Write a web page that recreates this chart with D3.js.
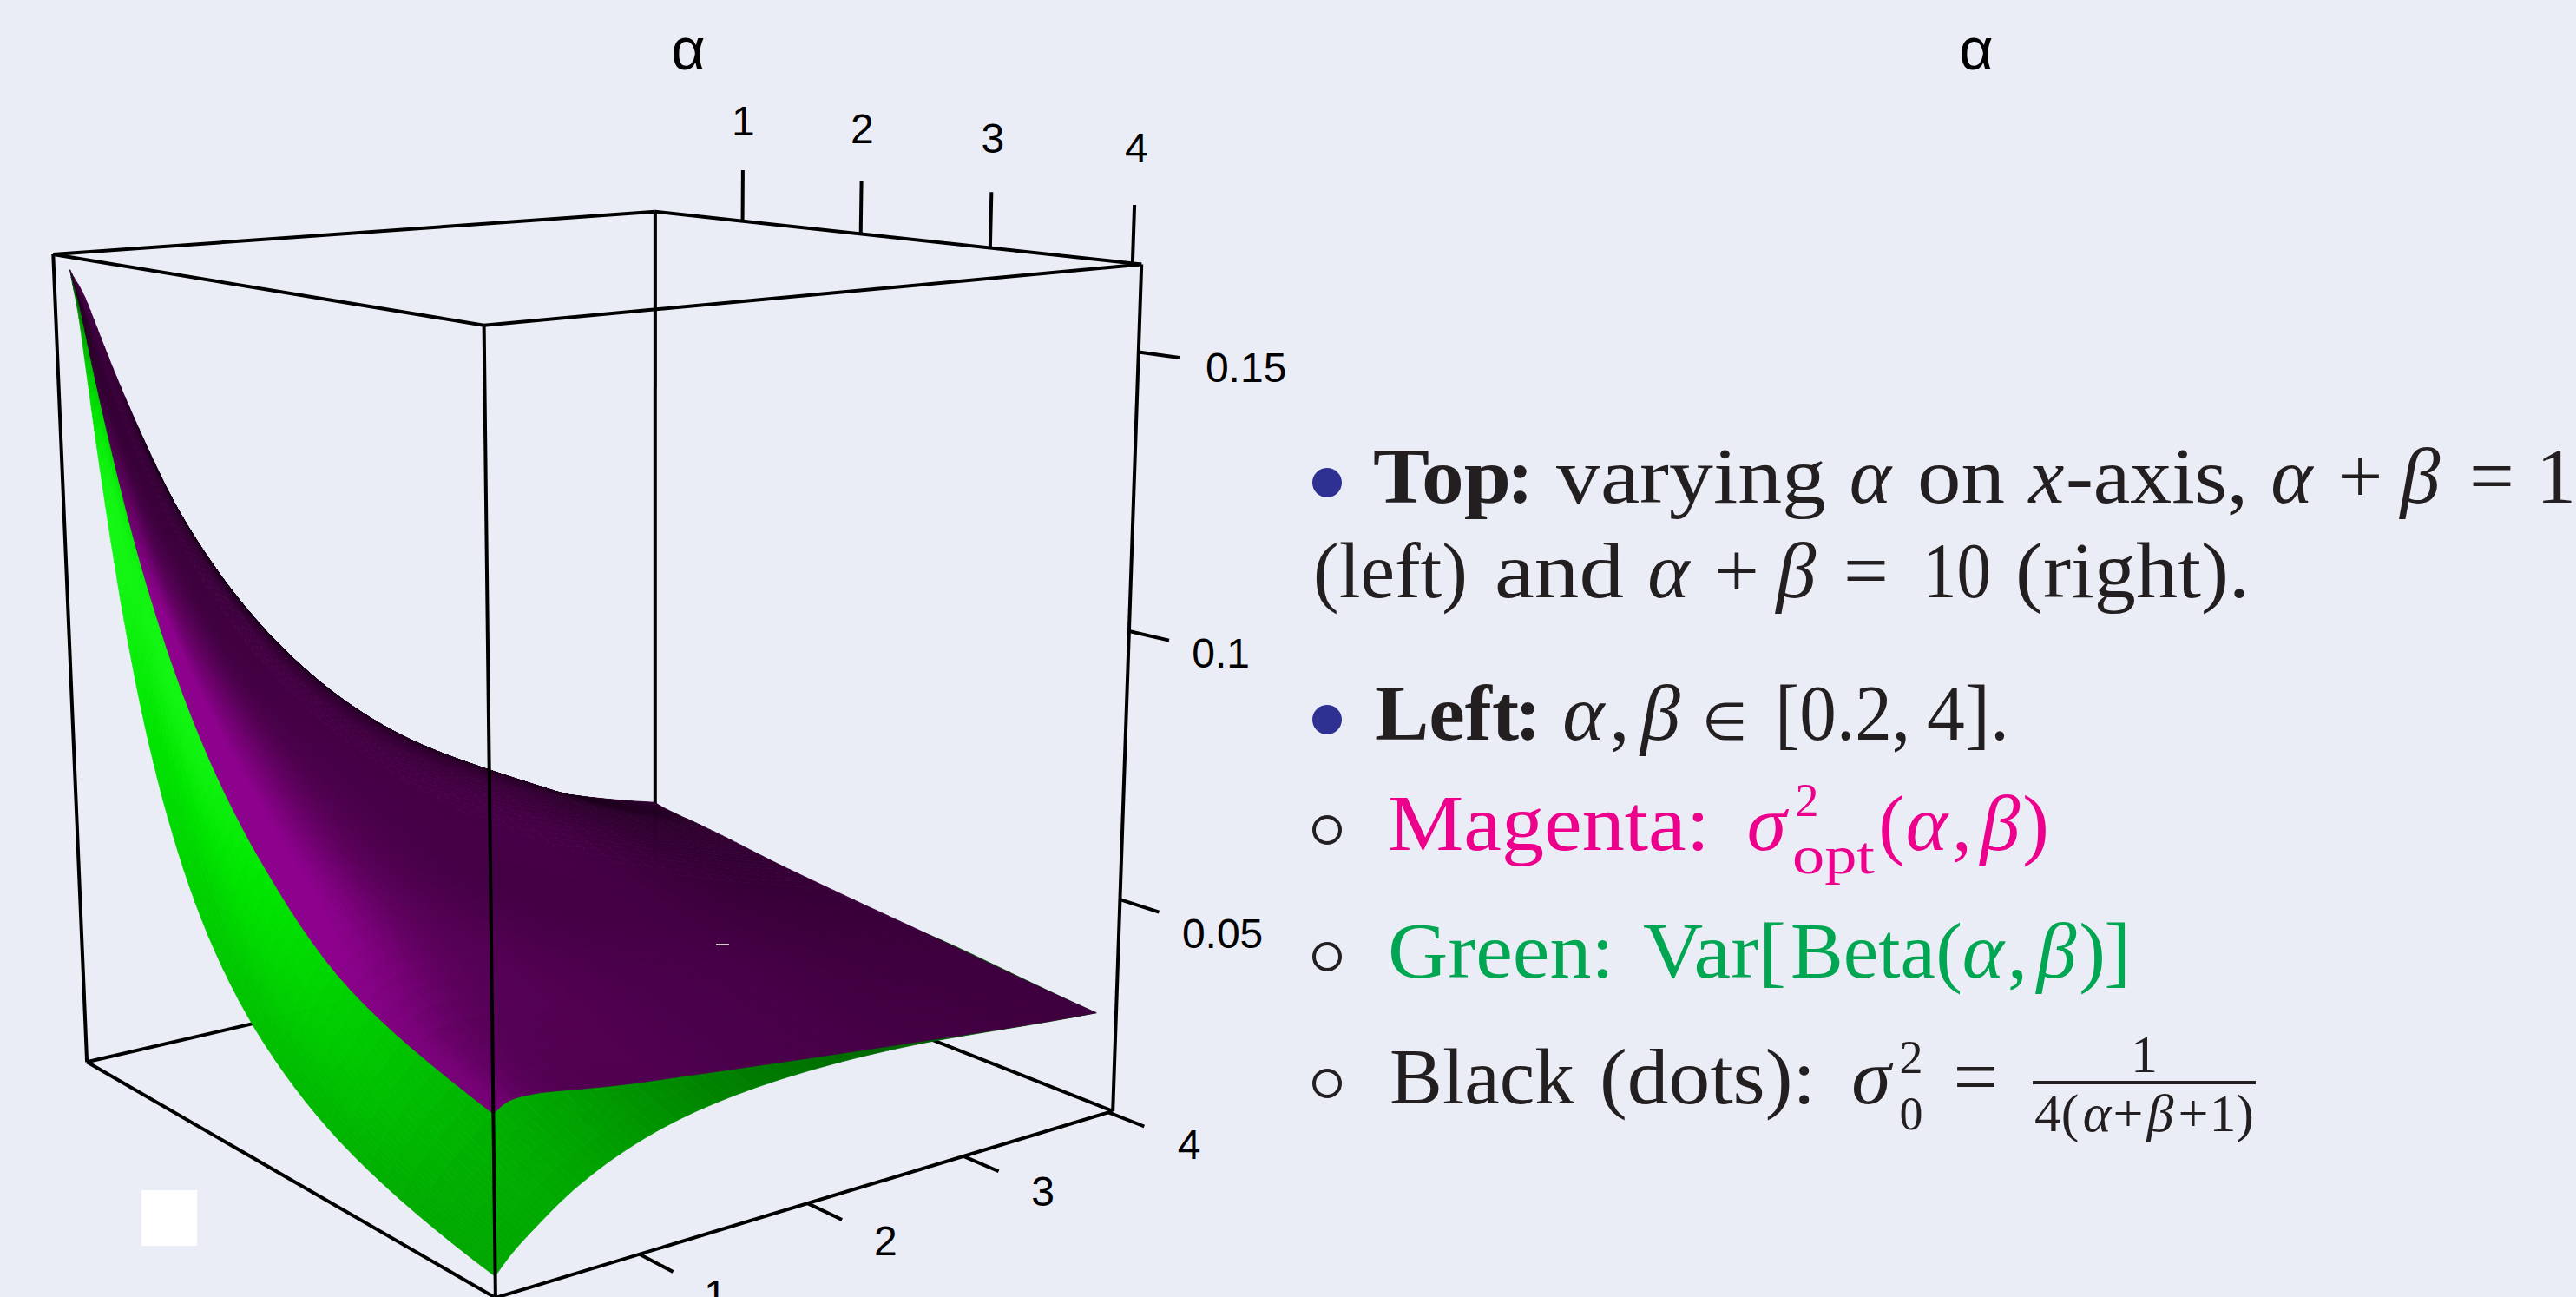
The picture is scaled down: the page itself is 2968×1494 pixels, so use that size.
<!DOCTYPE html>
<html>
<head>
<meta charset="utf-8">
<script src="https://cdnjs.cloudflare.com/ajax/libs/d3/7.8.5/d3.min.js"></script>
<style>
  html, body { margin: 0; padding: 0; background: #eaedf6; }
  svg { display: block; }
</style>
</head>
<body>
<script>
var w = 2968;
var h = 1494;

// grid of the two surfaces
var alphaGrid = [0.26, 0.35, 0.5, 0.7, 1, 1.4, 2, 2.8, 3.97];
var betaGrid = [0.26, 0.35, 0.5, 0.7, 1, 1.4, 2, 2.8, 3.98];

// magenta surface, rows = alpha, columns = beta
var sigmaOpt = [
  [.1625, .1562, .1421, .1254, .1048, .0846, .0655, .0510, .0390],
  [.1562, .1471, .1351, .1213, .1039, .0858, .0667, .0520, .0385],
  [.1421, .1351, .1250, .1136, .0995, .0843, .0674, .0530, .0380],
  [.1254, .1213, .1136, .1042, .0926, .0802, .0660, .0530, .0375],
  [.1048, .1039, .0995, .0926, .0833, .0735, .0622, .0510, .0365],
  [.0846, .0858, .0843, .0802, .0735, .0658, .0568, .0478, .0350],
  [.0646, .0667, .0674, .0660, .0622, .0568, .0500, .0431, .0332],
  [.0485, .0510, .0530, .0530, .0510, .0478, .0431, .0379, .0310],
  [.0390, .0405, .0405, .0395, .0380, .0365, .0343, .0315, .0278]
];

// green surface
var varBeta = [
  [.1625, .1519, .1270, .0994, .0711, .0485, .0304, .0186, .0105],
  [.1519, .1471, .1309, .1084, .0817, .0582, .0378, .0238, .0138],
  [.1270, .1309, .1250, .1105, .0889, .0669, .0457, .0299, .0180],
  [.0994, .1084, .1105, .1042, .0897, .0717, .0519, .0356, .0223],
  [.0711, .0817, .0889, .0897, .0833, .0715, .0556, .0404, .0267],
  [.0485, .0582, .0669, .0717, .0715, .0658, .0550, .0427, .0300],
  [.0304, .0378, .0457, .0519, .0556, .0550, .0500, .0419, .0317],
  [.0186, .0238, .0299, .0356, .0404, .0427, .0419, .0379, .0311],
  [.0112, .0142, .0180, .0223, .0267, .0300, .0317, .0311, .0278]
];

var alphaTicks = [1, 2, 3, 4];
var betaTicks = [1, 2, 3, 4];
var zTicks = [0.05, 0.1, 0.15];
var zTickLabels = ["0.05", "0.1", "0.15"];
var zLabelOffsets = [0.18, 0.158, 0.18];

var svg = d3.select("body")
  .append("svg")
  .attr("width", w)
  .attr("height", h);

svg.append("rect").attr("width", w).attr("height", h).attr("fill", "#eaedf6");

var xs = d3.scaleLinear().domain([0.2, 4.06]).range([0, 1]);
var ys = d3.scaleLinear().domain([0.2, 4.03]).range([0, 1]);
var zs = d3.scaleLinear().domain([0.0092, 0.1653]).range([0, 1]);

// camera: fit a projective matrix to where the box corners land on the page
var calib = [
  [0, 0, 1, 61, 293], [0, 1, 1, 755, 244], [1, 1, 1, 1315, 304], [1, 0, 1, 558, 375],
  [0, 0, 0, 100, 1223], [0, 1, 0, 755, 1072], [1, 1, 0, 1282, 1280], [1, 0, 0, 571, 1495]
];

function fitCamera(pts) {
  var A = [], b = [];
  pts.forEach(function(p) {
    A.push([p[0], p[1], p[2], 1, 0, 0, 0, 0, -p[3]*p[0], -p[3]*p[1], -p[3]*p[2]]);
    b.push(p[3]);
    A.push([0, 0, 0, 0, p[0], p[1], p[2], 1, -p[4]*p[0], -p[4]*p[1], -p[4]*p[2]]);
    b.push(p[4]);
  });
  var n = 11, M = [];
  for (var i = 0; i < n; i++) {
    M.push([]);
    for (var j = 0; j <= n; j++) {
      var s = 0;
      for (var k = 0; k < A.length; k++) s += A[k][i] * (j < n ? A[k][j] : b[k]);
      M[i].push(s);
    }
  }
  for (i = 0; i < n; i++) {
    var piv = i;
    for (k = i + 1; k < n; k++) if (Math.abs(M[k][i]) > Math.abs(M[piv][i])) piv = k;
    var tmp = M[i]; M[i] = M[piv]; M[piv] = tmp;
    for (k = 0; k < n; k++) {
      if (k == i) continue;
      var f = M[k][i] / M[i][i];
      for (j = i; j <= n; j++) M[k][j] -= f * M[i][j];
    }
  }
  return M.map(function(r, i) { return r[n] / r[i]; });
}
var cam = fitCamera(calib);

function depth(u, v, t) { return cam[8]*u + cam[9]*v + cam[10]*t + 1; }
function project(u, v, t) {
  var d = depth(u, v, t);
  return [(cam[0]*u + cam[1]*v + cam[2]*t + cam[3]) / d,
          (cam[4]*u + cam[5]*v + cam[6]*t + cam[7]) / d];
}

// smooth the small grids so the surface has no facets
function cr(a, x) {
  var n = a.length;
  var i = Math.min(Math.floor(x), n - 2), t = x - i;
  var p1 = a[i], p2 = a[i+1];
  var p0 = i > 0 ? a[i-1] : 2*p1 - p2;
  var p3 = i < n - 2 ? a[i+2] : 2*p2 - p1;
  return 0.5 * (2*p1 + (p2-p0)*t + (2*p0-5*p1+4*p2-p3)*t*t + (3*p1-p0-3*p2+p3)*t*t*t);
}
function sample(grid, x, y) {
  var col = grid.map(function(row) { return cr(row.map(Math.log), y); });
  return Math.exp(cr(col, x));
}

var sub = 8;
var blur = 3;
var light = [0.67, -0.44, 0.28];
var nearSign = depth(1, 0, 1) > depth(0, 1, 1) ? 1 : -1;

function buildCells(grid, colorFn) {
  var n = (alphaGrid.length - 1) * sub;
  var logA = alphaGrid.map(Math.log), logB = betaGrid.map(Math.log);
  var P = [];
  for (var i = 0; i <= n; i++) {
    P.push([]);
    for (var j = 0; j <= n; j++) {
      var x = i / sub, y = j / sub;
      P[i].push([xs(Math.exp(cr(logA, x))), ys(Math.exp(cr(logB, y))), zs(sample(grid, x, y))]);
    }
  }
  // shade per cell, then soften it a bit so the grid does not show
  var shade = [];
  for (i = 0; i < n; i++) {
    shade.push([]);
    for (j = 0; j < n; j++) {
      var a = P[i][j], b = P[i+1][j], c = P[i+1][j+1], d = P[i][j+1];
      var e1 = [c[0]-a[0], c[1]-a[1], c[2]-a[2]];
      var e2 = [d[0]-b[0], d[1]-b[1], d[2]-b[2]];
      var N = [e1[1]*e2[2]-e1[2]*e2[1], e1[2]*e2[0]-e1[0]*e2[2], e1[0]*e2[1]-e1[1]*e2[0]];
      var len = Math.sqrt(N[0]*N[0]+N[1]*N[1]+N[2]*N[2]) * (N[2] < 0 ? -1 : 1);
      shade[i].push(Math.max(0, (N[0]*light[0] + N[1]*light[1] + N[2]*light[2]) / len));
    }
  }
  var cells = [];
  for (i = 0; i < n; i++) {
    for (j = 0; j < n; j++) {
      var sum = 0, cnt = 0;
      for (var di = -blur; di <= blur; di++) {
        for (var dj = -blur; dj <= blur; dj++) {
          if (shade[i+di] && shade[i+di][j+dj] !== undefined) { sum += shade[i+di][j+dj]; cnt++; }
        }
      }
      a = P[i][j]; b = P[i+1][j]; c = P[i+1][j+1]; d = P[i][j+1];
      cells.push({
        pts: [a, b, c, d].map(function(q) { return project(q[0], q[1], q[2]); }),
        z: depth((a[0]+c[0])/2, (a[1]+c[1])/2, (a[2]+c[2])/2) * nearSign,
        fill: colorFn(sum / cnt)
      });
    }
  }
  cells.sort(function(p, q) { return d3.ascending(p.z, q.z); });
  return cells;
}

function magenta(I) {
  var m = Math.round(255 * Math.min(0.56, 0.85 * I));
  return "rgb(" + m + ",0," + m + ")";
}
function green(I) {
  var g = 1.15 * I;
  var spec = Math.round(Math.max(0, g - 0.9) * 280);
  return "rgb(" + spec + "," + Math.round(255 * Math.min(1, g)) + "," + spec + ")";
}

function edge(p, q, sw) {
  var a = project(p[0], p[1], p[2]), b = project(q[0], q[1], q[2]);
  svg.append("line")
    .attr("x1", a[0]).attr("y1", a[1]).attr("x2", b[0]).attr("y2", b[1])
    .attr("stroke", "#000").attr("stroke-width", sw || 4);
}

// back of the box goes under the surfaces
edge([0,0,0], [0,1,0]);
edge([0,1,0], [1,1,0]);
edge([0,1,0], [0,1,1]);

[[varBeta, green], [sigmaOpt, magenta]].forEach(function(s) {
  svg.append("g").selectAll("polygon")
    .data(buildCells(s[0], s[1]))
    .enter()
    .append("polygon")
    .attr("points", function(d) { return d.pts.map(function(p) { return p[0].toFixed(1) + "," + p[1].toFixed(1); }).join(" "); })
    .attr("fill", function(d) { return d.fill; })
    .attr("stroke", function(d) { return d.fill; })
    .attr("stroke-width", 0.8);
});

// rest of the box
edge([0,0,1], [0,1,1]);
edge([0,1,1], [1,1,1]);
edge([1,1,1], [1,0,1]);
edge([1,0,1], [0,0,1]);
edge([0,0,0], [0,0,1]);
edge([1,1,0], [1,1,1]);
edge([1,0,0], [1,0,1]);
edge([0,0,0], [1,0,0]);
edge([1,0,0], [1,1,0]);

function axisLabel(p, txt) {
  svg.append("text")
    .attr("x", p[0]).attr("y", p[1]).attr("dy", "0.36em")
    .attr("text-anchor", "middle")
    .attr("font-family", "Liberation Sans, Arial, sans-serif")
    .attr("font-size", 48)
    .attr("fill", "#000")
    .text(txt);
}

alphaTicks.forEach(function(t) {
  edge([xs(t), 1, 1], [xs(t), 1, 1.065]);
  axisLabel(project(xs(t), 1, 1.128), t);
});
betaTicks.forEach(function(t) {
  edge([1, ys(t), 0], [1.065, ys(t), 0]);
  axisLabel(project(1.145, ys(t), 0), t);
});
zTicks.forEach(function(t, i) {
  edge([1, 1, zs(t)], [1.07, 1, zs(t)]);
  axisLabel(project(1 + zLabelOffsets[i], 1, zs(t)), zTickLabels[i]);
});

[793, 2277].forEach(function(x) {
  svg.append("text")
    .attr("x", x).attr("y", 80)
    .attr("text-anchor", "middle")
    .attr("font-family", "Liberation Sans, Arial, sans-serif")
    .attr("font-size", 68)
    .text("\u03b1");
});

// stray marks in the original picture
svg.append("rect").attr("x", 163).attr("y", 1371).attr("width", 64).attr("height", 64).attr("fill", "#fff");
svg.append("rect").attr("x", 825).attr("y", 1087).attr("width", 15).attr("height", 2).attr("fill", "#d9c4dc");

// text on the right
var ink = "#231f20", pink = "#ec008c", grn = "#00a651";

function run(str, x0, x1, y, opt) {
  opt = opt || {};
  var t = svg.append("text")
    .attr("y", y)
    .attr("font-family", "Liberation Serif, Times New Roman, serif")
    .attr("font-size", opt.size || 92)
    .attr("font-style", opt.it ? "italic" : "normal")
    .attr("font-weight", opt.bold ? "bold" : "normal")
    .attr("fill", opt.fill || ink)
    .text(str);
  // single glyphs go in the middle of their slot, longer runs are fitted
  if (str.length == 1) {
    t.attr("x", (x0 + x1) / 2).attr("text-anchor", "middle");
  } else {
    t.attr("x", x0).attr("textLength", x1 - x0).attr("lengthAdjust", "spacingAndGlyphs");
  }
}
var it = {it: true};
var sup = {size: 54};

svg.append("circle").attr("cx", 1529).attr("cy", 556).attr("r", 17).attr("fill", "#2e3192");
run("Top", 1582, 1741, 579, {bold: true});
run(":", 1745, 1758, 579, {bold: true});
run("varying", 1793, 2104, 579);
run("\u03b1", 2133, 2177, 579, it);
run("on", 2209, 2310, 579);
run("x", 2339, 2377, 579, it);
run("-axis,", 2380, 2590, 579);
run("\u03b1", 2617, 2664, 579, it);
run("+", 2695, 2744, 579);
run("\u03b2", 2761, 2816, 579, it);
run("=", 2846, 2896, 579);
run("1", 2928, 2962, 579);

run("(left)", 1513, 1691, 688);
run("and", 1722, 1871, 688);
run("\u03b1", 1900, 1945, 688, it);
run("+", 1976, 2026, 688);
run("\u03b2", 2042, 2097, 688, it);
run("=", 2125, 2175, 688);
run("10", 2215, 2294, 688);
run("(right).", 2322, 2592, 688);

svg.append("circle").attr("cx", 1529).attr("cy", 829).attr("r", 17).attr("fill", "#2e3192");
run("Left", 1584, 1750, 852, {bold: true});
run(":", 1754, 1767, 852, {bold: true});
run("\u03b1", 1801, 1848, 852, it);
run(",", 1858, 1874, 852);
run("\u03b2", 1886, 1940, 852, it);
run("\u2208", 1966, 2007, 852, {size: 60});
run("[0.2,", 2045, 2201, 852);
run("4].", 2220, 2315, 852);

[956, 1102, 1248].forEach(function(cy) {
  svg.append("circle").attr("cx", 1529).attr("cy", cy).attr("r", 15)
    .attr("fill", "none").attr("stroke", ink).attr("stroke-width", 4);
});

var p = {fill: pink}, pi = {fill: pink, it: true}, ps = {fill: pink, size: 54};
run("Magenta:", 1599, 1970, 979, p);
run("\u03c3", 2006, 2065, 979, pi);
run("2", 2068, 2096, 940, ps);
run("opt", 2065, 2160, 1006, {fill: pink, size: 62});
run("(", 2167, 2192, 979, p);
run("\u03b1", 2195, 2245, 979, pi);
run(",", 2253, 2268, 979, p);
run("\u03b2", 2280, 2329, 979, pi);
run(")", 2333, 2358, 979, p);

var g = {fill: grn}, gi = {fill: grn, it: true};
run("Green:", 1599, 1860, 1126, g);
run("Var[", 1893, 2058, 1126, g);
run("Beta", 2063, 2230, 1126, g);
run("(", 2234, 2257, 1126, g);
run("\u03b1", 2260, 2310, 1126, gi);
run(",", 2318, 2331, 1126, g);
run("\u03b2", 2345, 2394, 1126, gi);
run(")", 2398, 2423, 1126, g);
run("]", 2429, 2450, 1126, g);

run("Black", 1601, 1814, 1271);
run("(dots):", 1843, 2092, 1271);
run("\u03c3", 2127, 2185, 1271, it);
run("2", 2188, 2216, 1236, sup);
run("0", 2188, 2216, 1301, sup);
run("=", 2253, 2300, 1271);
svg.append("rect").attr("x", 2342).attr("y", 1245).attr("width", 257).attr("height", 4).attr("fill", ink);
run("1", 2461, 2480, 1235, {size: 62});
run("4", 2345, 2374, 1303, {size: 62});
run("(", 2374, 2396, 1303, {size: 62});
run("\u03b1", 2398, 2434, 1303, {size: 62, it: true});
run("+", 2436, 2468, 1303, {size: 62});
run("\u03b2", 2470, 2508, 1303, {size: 62, it: true});
run("+", 2510, 2544, 1303, {size: 62});
run("1", 2548, 2574, 1303, {size: 62});
run(")", 2576, 2597, 1303, {size: 62});
</script>
</body>
</html>
